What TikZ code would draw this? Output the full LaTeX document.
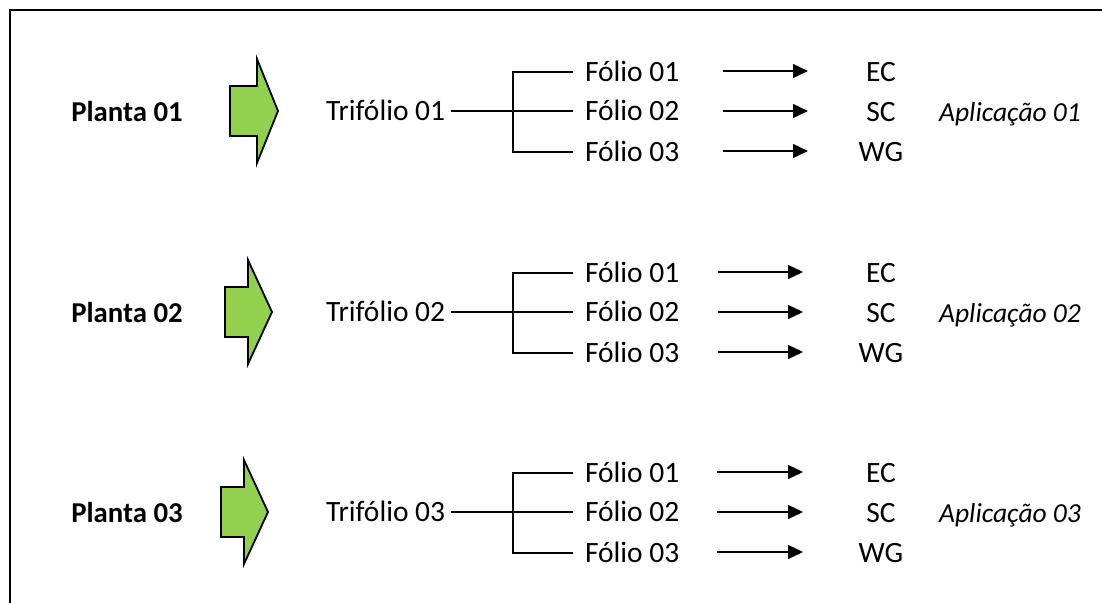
\documentclass[tikz,border=0pt]{standalone}
\usepackage{fontspec}
\setmainfont{Carlito}
\usetikzlibrary{arrows.meta}
\definecolor{agreen}{HTML}{92D050}
\begin{document}
\begin{tikzpicture}[x=1pt,y=-1pt,
  txt/.style={inner sep=0pt, text height=19pt, text depth=0pt, font=\fontsize{29.5}{35}\selectfont},
  planta/.style={txt, font=\fontsize{28.8}{35}\selectfont\bfseries},
  tri/.style={txt, anchor=west, inner xsep=0pt, outer xsep=6pt},
  folio/.style={txt, anchor=west, outer xsep=12pt},
  res/.style={txt},
  app/.style={txt, text height=18pt, font=\fontsize{27.5}{33}\selectfont\itshape},
  garrow/.style={draw=black, fill=agreen, line width=1.8pt, line join=miter},
  branch/.style={draw=black, line width=1.2pt},
  trunk/.style={draw=black, line width=1.8pt},
  conn/.style={draw=black, line width=1.3pt, -{Triangle[length=15pt,width=14pt]}}
]
\useasboundingbox (0,0) rectangle (1102,602);
\begin{scope}
\clip (0,0) rectangle (1102,602);
\draw[line width=2.2pt] (10,10) rectangle (1130,640);
\end{scope}
\foreach \r/\Y/\ax/\ah/\at/\bx/\ex in {1/111/230/257/278/723/808, 2/312/225/248/272/718/803, 3/512/221/244/268/717/803}{
  \node[planta] (p\r) at (127,\Y+1) {Planta 0\r};
  \draw[garrow] (\ax,\Y-25) -- (\ah,\Y-25) -- (\ah,\Y-52) -- (\at,\Y) -- (\ah,\Y+52) -- (\ah,\Y+25) -- (\ax,\Y+25) -- cycle;
  \node[tri] (t\r) at (326-6,\Y) {Trifólio 0\r};
  \coordinate (b\r) at (513,\Y);
  \draw[trunk] (t\r.east) -- (b\r);
  \node[folio] (f\r1) at (573,\Y-39) {Fólio 01};
  \node[folio] (f\r2) at (573,\Y) {Fólio 02};
  \node[folio] (f\r3) at (573,\Y+41) {Fólio 03};
  \draw[branch] (f\r1.west) -| (b\r);
  \draw[branch] (f\r2.west) -- (b\r);
  \draw[branch] (f\r3.west) -| (b\r);
  \node[res] (e\r1) at (881,\Y-39) {EC};
  \node[res] (e\r2) at (881,\Y+1) {SC};
  \node[res] (e\r3) at (881,\Y+41) {WG};
  \node[app] (a\r) at (1010,\Y+1) {Aplicação 0\r};
  \foreach \k/\dy in {1/-40,2/0,3/40}{
    \coordinate (s\r\k) at (\bx,\Y+\dy);
    \coordinate (z\r\k) at (\ex,\Y+\dy);
    \draw[conn] (s\r\k) -- (z\r\k);
  }
}
\end{tikzpicture}
\end{document}
